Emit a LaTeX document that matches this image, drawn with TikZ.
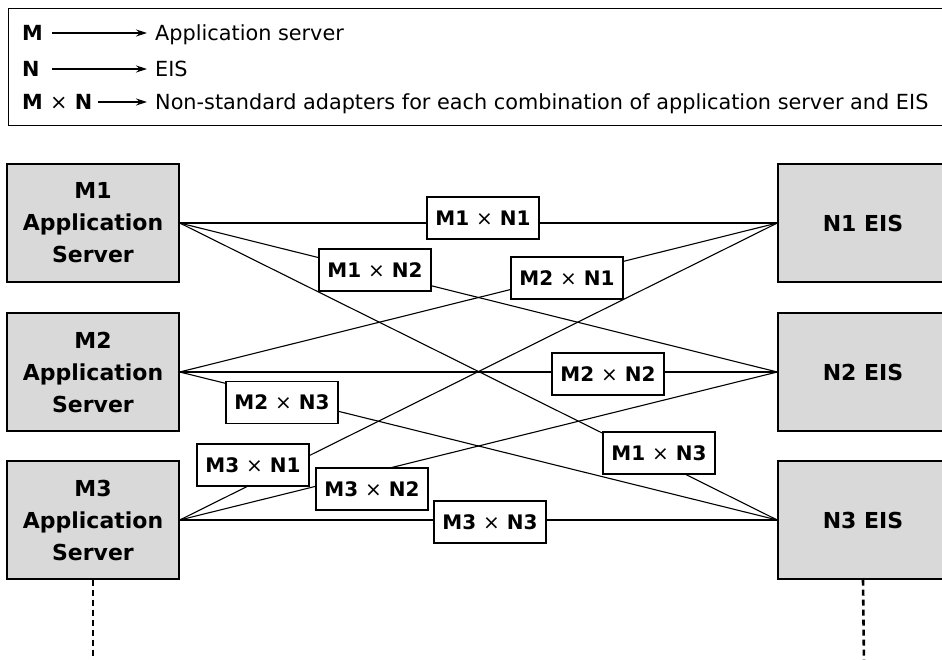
\documentclass[tikz,border=0pt]{standalone}
\usepackage{fontspec}
\setmainfont{DejaVu Sans}
\usetikzlibrary{arrows.meta}
\definecolor{boxgray}{RGB}{217,217,217}
\begin{document}
\begin{tikzpicture}[x=1pt,y=-1pt,
  sys/.style={draw=black, line width=1.4pt, fill=boxgray, minimum height=118pt,
    inner sep=0pt, align=center, font=\fontsize{22}{32}\selectfont\bfseries},
  adapt/.style={draw=black, line width=1.2pt, fill=white, minimum width=112pt,
    minimum height=42pt, inner sep=0pt, font=\fontsize{20}{25}\selectfont\bfseries},
  conn/.style={line width=1.1pt},
  leg/.style={inner ysep=0pt, inner xsep=0pt, text height=15.2pt, text depth=0pt,
    font=\fontsize{20.8}{24}\selectfont},
  legb/.style={leg, font=\fontsize{20.8}{24}\selectfont\bfseries},
  legarrow/.style={line width=1.1pt, -{Stealth[length=11pt,width=7pt]}},
  dashline/.style={line width=2.6pt, dash pattern=on 6pt off 4pt}]
\useasboundingbox (0,0) rectangle (942,660);

% legend frame
\draw[line width=1.2pt] (8.5,8.5) rectangle (975,125.5);

% legend rows
\node[legb, anchor=west, text width=30pt, align=left] (lm) at (22,33) {M};
\node[leg, anchor=west, inner xsep=8pt] (la) at (147,33) {Application server};
\draw[legarrow] (lm) -- (la);

\node[legb, anchor=west, text width=30pt, align=left] (ln) at (22,69) {N};
\node[leg, anchor=west, inner xsep=8pt] (le) at (147,69) {EIS};
\draw[legarrow] (ln) -- (le);

\node[legb, anchor=west] (lmn) at (22,102) {M {\mdseries ×} N};
\node[leg, anchor=west, inner xsep=8pt] (lx) at (147,102) {Non-standard adapters for each combination of application server and EIS};
\draw[legarrow, shorten <=6pt] (lmn) -- (lx);

% systems
\node[sys, minimum width=172pt] (m1) at (93,223) {M1\\Application\\Server};
\node[sys, minimum width=172pt] (m2) at (93,372) {M2\\Application\\Server};
\node[sys, minimum width=172pt] (m3) at (93,520) {M3\\Application\\Server};
\node[sys, minimum width=170pt] (n1) at (863,223) {N1 EIS};
\node[sys, minimum width=170pt] (n2) at (863,372) {N2 EIS};
\node[sys, minimum width=170pt] (n3) at (863,520) {N3 EIS};

% connectors
\foreach \i in {1,2,3}{
  \foreach \j in {1,2,3}{
    \draw[conn] (m\i.east) -- (n\j.west);
  }
}

% adapters
\node[adapt] (a11) at (483,218) {M1 {\mdseries ×} N1};
\node[adapt] (a12) at (375,270) {M1 {\mdseries ×} N2};
\node[adapt] (a21) at (567,278) {M2 {\mdseries ×} N1};
\node[adapt] (a22) at (608,374) {M2 {\mdseries ×} N2};
\node[adapt] (a23) at (282,402.5) {M2 {\mdseries ×} N3};
\node[adapt] (a13) at (659,453) {M1 {\mdseries ×} N3};
\node[adapt] (a31) at (253,465) {M3 {\mdseries ×} N1};
\node[adapt] (a32) at (372,489) {M3 {\mdseries ×} N2};
\node[adapt] (a33) at (490,522) {M3 {\mdseries ×} N3};

% continuation
\coordinate (m3end) at (93,662);
\coordinate (n3end) at (864,662);
\draw[dashline] (m3.south) -- (m3end);
\draw[dashline] (n3.south) -- (n3end);
\end{tikzpicture}
\end{document}
